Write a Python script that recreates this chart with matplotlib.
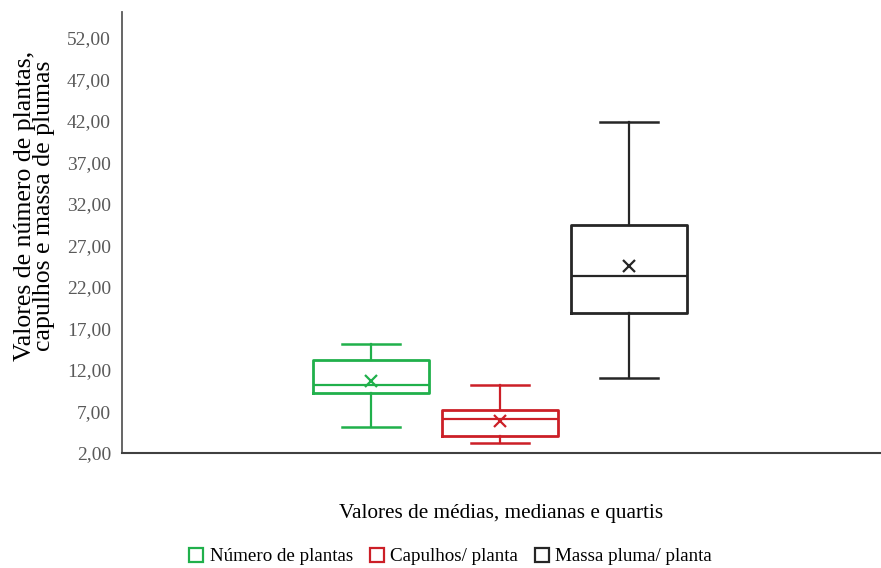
import matplotlib.pyplot as plt
from matplotlib.ticker import FuncFormatter

plt.rcParams['font.family'] = ['Liberation Serif', 'DejaVu Serif']

series  = ["Número de plantas", "Capulhos/ planta", "Massa pluma/ planta"]
colors  = ["#20B04B", "#CC1F27", "#262626"]
whislo  = [5.1, 3.2, 11.0]
q1      = [9.2, 4.05, 18.9]
median  = [10.2, 6.1, 23.3]
q3      = [13.2, 7.2, 29.5]
whishi  = [15.1, 10.2, 41.9]
means   = [10.7, 5.85, 24.5]
yticks  = [2, 7, 12, 17, 22, 27, 32, 37, 42, 47, 52]

fig = plt.figure(figsize=(8.81, 5.68), dpi=100)
ax = fig.add_axes([0.1385, 0.2025, 0.8605, 0.7765])

for i, name in enumerate(series):
    stats = [dict(label=name, whislo=whislo[i], q1=q1[i], med=median[i],
                  q3=q3[i], whishi=whishi[i], mean=means[i], fliers=[])]
    c = colors[i]
    ax.bxp(stats, positions=[i + 1], widths=0.9, showmeans=True,
           patch_artist=False,
           boxprops=dict(color=c, linewidth=2),
           medianprops=dict(color=c, linewidth=1.6),
           whiskerprops=dict(color=c, linewidth=1.6),
           capprops=dict(color=c, linewidth=1.8),
           meanprops=dict(marker='x', markeredgecolor=c, markersize=8,
                          markeredgewidth=1.6))

ax.set_xlim(-0.93, 4.95)
ax.set_ylim(2, 55.1)
ax.set_yticks(yticks)
ax.yaxis.set_major_formatter(FuncFormatter(lambda v, p: f"{v:.2f}".replace('.', ',')))
ax.set_xticks([])
ax.tick_params(axis='y', length=0, labelsize=14, labelcolor='#595959', pad=8)

for s in ['top', 'right']:
    ax.spines[s].set_visible(False)
ax.spines['left'].set_color('#595959')
ax.spines['left'].set_linewidth(1.3)
ax.spines['bottom'].set_color('#404040')
ax.spines['bottom'].set_linewidth(1.5)

ax.set_ylabel("Valores de número de plantas,\ncapulhos e massa de plumas",
              fontsize=18.5, linespacing=0.82, va='center')
ax.yaxis.set_label_coords(-0.115, 0.56)
ax.set_xlabel("Valores de médias, medianas e quartis", fontsize=15.3, labelpad=37)

handles = [plt.Line2D([], [], marker='s', linestyle='none', markersize=10,
                      markerfacecolor='white', markeredgecolor=c,
                      markeredgewidth=1.6) for c in colors]
fig.legend(handles, series, loc='center', bbox_to_anchor=(0.511, 0.02),
           ncol=3, frameon=False, fontsize=13.7, handletextpad=0.3,
           columnspacing=0.85, handlelength=0.8)

plt.savefig("out.png", dpi=100)
